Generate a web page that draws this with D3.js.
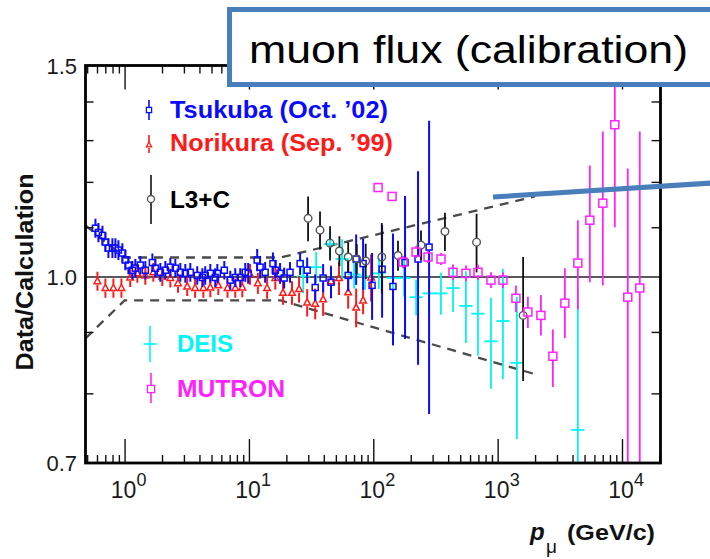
<!DOCTYPE html>
<html>
<head>
<meta charset="utf-8">
<script src="https://cdn.jsdelivr.net/npm/d3@7"></script>
<style>
  html, body { margin: 0; padding: 0; background: #fff; }
  svg { display: block; }
  text { font-family: "Liberation Sans", Arial, Helvetica, sans-serif; }
</style>
</head>
<body>
<svg id="chart" width="710" height="559"></svg>
<script>
// Muon flux ratio Data/Calculation versus muon momentum, several experiments.

// Tsukuba (Oct. '02): [p (GeV/c), ratio, ±error]
const tsukuba = [
  [0.583,1.098,0.02],[0.616,1.089,0.02],[0.664,1.083,0.02],[0.701,1.069,0.02],
  [0.741,1.057,0.02],[0.798,1.057,0.02],[0.844,1.057,0.02],[0.892,1.053,0.02],
  [0.960,1.047,0.02],[1.015,1.033,0.02],[1.073,1.023,0.018],[1.155,1.013,0.018],
  [1.221,1.017,0.018],[1.339,1.023,0.018],[1.469,1.013,0.018],[1.673,1.028,0.018],
  [1.768,1.017,0.018],[1.939,1.009,0.018],[2.127,1.013,0.018],[2.333,1.019,0.018],
  [2.559,1.017,0.018],[2.807,1.009,0.018],[3.079,1.007,0.018],[3.377,1.009,0.018],
  [3.84,1.003,0.018],[4.22,0.999,0.018],[4.45,1.003,0.018],[4.89,1.007,0.018],
  [5.36,0.999,0.018],[5.57,1.007,0.018],[6.34,1.013,0.018],[7.08,0.994,0.018],
  [7.76,0.999,0.018],[8.51,0.999,0.018],[9.34,1.009,0.018],[9.86,1.007,0.02],
  [11.65,1.033,0.022],[12.3,1.019,0.022],[13.5,1.009,0.02],[15.6,1.026,0.022],
  [16.3,1.013,0.02],[17.8,1.007,0.02],[19.2,0.998,0.02],[21.4,1.009,0.02],
  [25.8,1.026,0.022],[29.4,1.013,0.025],[34.1,0.980,0.025],[39.5,0.998,0.027],
  [45.7,0.990,0.03],[62.8,1.003,0.03],[72.8,1.035,0.05],[82.8,1.026,0.05],
  [97.8,0.984,0.063],[117.7,1.015,0.09],[144,0.982,0.105],[180,1.028,0.14],
  [229,1.035,0.19],[281,1.059,0.29]
];

// Norikura (Sep. '99): [p, ratio, ±error]
const norikura = [
  [0.605,0.992,0.018],[0.701,0.979,0.018],[0.813,0.979,0.018],[0.943,0.979,0.018],
  [1.11,0.999,0.018],[1.267,1.007,0.018],[1.469,1.003,0.018],[1.703,1.009,0.018],
  [2.01,1.001,0.018],[2.333,0.998,0.018],[2.69,0.988,0.018],[3.19,0.982,0.018],
  [3.69,0.979,0.018],[4.3,0.979,0.018],[4.89,0.980,0.018],[5.67,0.984,0.018],
  [6.73,0.979,0.018],[7.76,0.979,0.018],[8.84,0.980,0.018],[10.2,1.005,0.02],
  [11.8,0.988,0.02],[14.0,0.979,0.02],[16.3,0.998,0.022],[18.8,0.970,0.022],
  [22.2,0.970,0.022],[25.3,0.977,0.025],[29.4,0.952,0.025],[34.1,0.950,0.028],
  [39.5,0.958,0.03],[45.7,0.992,0.03],[53.0,0.998,0.032],[62.8,0.971,0.03],
  [72.8,0.943,0.035],[82.8,0.956,0.025],[96.0,0.999,0.045]
];

// L3+C: [p, ratio, ±error]
const l3c = [
  [29.9,1.119,0.048],[37.3,1.094,0.04],[44.9,1.067,0.035],[53.4,1.051,0.03],
  [62.8,1.039,0.03],[73.7,1.035,0.03],[86.9,1.031,0.035],[117,1.039,0.07],
  [158,1.042,0.03],[242,1.063,0.03],[377,1.091,0.04],[677,1.069,0.06],
  [1603,0.929,0.11]
];

// DEIS: [p, ratio, ±error]; bins are drawn as ±deisBinHalfWidth decades
const deis = [
  [27.3,1.001,0.032],[34.7,1.019,0.03],[45.0,1.065,0.026],[56.1,1.035,0.04],
  [70.1,1.005,0.027],[85.9,1.001,0.025],[111,1.007,0.03],[144,0.998,0.028],
  [177,0.998,0.035],[221,0.962,0.033],[281,0.969,0.034],[350,0.969,0.039],
  [438,0.979,0.044],[556,0.946,0.065],[695,0.932,0.072],[884,0.884,0.077],
  [1103,0.919,0.097],[1429,0.848,0.115],[4416,0.746,0.235]
];
const deisBinHalfWidth = 0.053;

// MUTRON: [p, ratio, lower, upper]
const mutron = [
  [109.3,1.187,1.177,1.197],[141.6,1.167,1.157,1.177],[173.5,1.029,1.017,1.041],
  [220.8,1.049,1.037,1.061],[275.5,1.039,1.027,1.051],[350.5,1.035,1.023,1.047],
  [437.5,1.009,0.994,1.024],[556.5,1.007,0.992,1.022],[694.8,1.009,0.994,1.024],
  [883.8,0.994,0.979,1.009],[1103,0.994,0.979,1.009],[1403,0.960,0.935,0.984],
  [1751,0.935,0.907,0.963],[2228,0.929,0.894,0.966],[2781,0.859,0.810,0.904],
  [3473,0.951,0.889,1.017],[4416,1.027,0.94,1.115],[5513,1.115,0.990,1.238],
  [7012,1.152,0.984,1.322],[8755,1.339,1.100,1.63],[11130,0.962,0.6,1.231],
  [13900,0.979,0.6,1.322]
];

// Uncertainty band of the calculation (dashed)
const bandUpper = [[0.485,1.104],[1.0,1.038],[18,1.038],[2000,1.167]];
const bandLower = [[0.485,0.889],[1.0,0.956],[18,0.956],[2000,0.83]];

// Axes
const xDomain = [0.485, 20400];
const yDomain = [0.7, 1.5];
const xDecades = [0, 1, 2, 3, 4];
const yLabelValues = [0.7, 1.0, 1.5];
const yTickValues = [0.8, 0.9, 1.1, 1.2, 1.3, 1.4];

const legendItems = [
  {label: "Tsukuba (Oct. \u201902)", key: "tsukuba"},
  {label: "Norikura (Sep. \u201999)", key: "norikura"},
  {label: "L3+C", key: "l3c"},
  {label: "DEIS", key: "deis"},
  {label: "MUTRON", key: "mutron"}
];

const titleText = "muon flux (calibration)";

// ---------------------------------------------------------------
const svg = d3.select("#chart");
const plot = {left: 85.5, right: 660.5, top: 65.5, bottom: 463};

const x = d3.scaleLog().domain(xDomain).range([plot.left, plot.right]);
const y = d3.scaleLog().domain(yDomain).range([plot.bottom, plot.top]);

const colors = {
  tsukuba: "#0a0aff", norikura: "#ff1a1a", l3c: "#000000",
  deis: "#00f5f5", mutron: "#ff22ff"
};

svg.append("defs").append("clipPath").attr("id", "plotClip")
  .append("rect")
  .attr("x", plot.left).attr("y", plot.top)
  .attr("width", plot.right - plot.left).attr("height", plot.bottom - plot.top);

// Reference line at ratio 1
svg.append("line")
  .attr("x1", plot.left).attr("x2", plot.right)
  .attr("y1", y(1)).attr("y2", y(1))
  .attr("stroke", "#222").attr("stroke-width", 1.6);

const dataG = svg.append("g").attr("clip-path", "url(#plotClip)");

// Dashed band
const bandLine = d3.line().x(d => x(d[0])).y(d => y(d[1]));
[bandUpper, bandLower].forEach(b => {
  dataG.append("path").attr("d", bandLine(b))
    .attr("fill", "none").attr("stroke", "#4a4a4a")
    .attr("stroke-width", 2.3).attr("stroke-dasharray", "9,7");
});

// Vertical error bar split around a marker of half-size h
function errorBar(g, cx, cy, yHi, yLo, h, color, w) {
  if (cy - h > yHi) g.append("line").attr("x1", cx).attr("x2", cx)
    .attr("y1", yHi).attr("y2", cy - h).attr("stroke", color).attr("stroke-width", w);
  if (yLo > cy + h) g.append("line").attr("x1", cx).attr("x2", cx)
    .attr("y1", cy + h).attr("y2", yLo).attr("stroke", color).attr("stroke-width", w);
}

function square(g, cx, cy, h, color, w) {
  g.append("rect").attr("x", cx - h).attr("y", cy - h)
    .attr("width", 2 * h).attr("height", 2 * h)
    .attr("fill", "none").attr("stroke", color).attr("stroke-width", w);
}
function triangle(g, cx, cy, h, color, w) {
  g.append("path")
    .attr("d", `M${cx},${cy - h * 1.15}L${cx + h},${cy + h * 0.75}L${cx - h},${cy + h * 0.75}Z`)
    .attr("fill", "none").attr("stroke", color).attr("stroke-width", w);
}
function circle(g, cx, cy, r, color, w) {
  g.append("circle").attr("cx", cx).attr("cy", cy).attr("r", r)
    .attr("fill", "none").attr("stroke", color).attr("stroke-width", w);
}

// DEIS crosses
const deisG = dataG.append("g");
deis.forEach(d => {
  const cx = x(d[0]), cy = y(d[1]);
  deisG.append("line").attr("x1", cx).attr("x2", cx)
    .attr("y1", y(d[1] + d[2])).attr("y2", y(d[1] - d[2]))
    .attr("stroke", colors.deis).attr("stroke-width", 1.8);
  deisG.append("line")
    .attr("x1", x(d[0] / Math.pow(10, deisBinHalfWidth)))
    .attr("x2", x(d[0] * Math.pow(10, deisBinHalfWidth)))
    .attr("y1", cy).attr("y2", cy)
    .attr("stroke", colors.deis).attr("stroke-width", 1.8);
});

// Norikura triangles
const noriG = dataG.append("g");
norikura.forEach(d => {
  const cx = x(d[0]), cy = y(d[1]);
  errorBar(noriG, cx, cy, y(d[1] + d[2]), y(d[1] - d[2]), 3.5, colors.norikura, 2);
  triangle(noriG, cx, cy, 3.3, colors.norikura, 1.5);
});

// Tsukuba squares
const tsuG = dataG.append("g");
tsukuba.forEach(d => {
  const cx = x(d[0]), cy = y(d[1]);
  errorBar(tsuG, cx, cy, y(d[1] + d[2]), y(d[1] - d[2]), 3, colors.tsukuba, 2);
  square(tsuG, cx, cy, 3, colors.tsukuba, 1.5);
});

// L3+C circles
const l3G = dataG.append("g");
l3c.forEach(d => {
  const cx = x(d[0]), cy = y(d[1]);
  errorBar(l3G, cx, cy, y(d[1] + d[2]), y(d[1] - d[2]), 3.8, "#111", 1.8);
  circle(l3G, cx, cy, 3.8, "#555", 1.4);
});

// MUTRON squares
const mutG = dataG.append("g");
mutron.forEach(d => {
  const cx = x(d[0]), cy = y(d[1]);
  errorBar(mutG, cx, cy, y(d[3]), y(d[2]), 4, colors.mutron, 1.8);
  square(mutG, cx, cy, 4, colors.mutron, 1.5);
});

// Axes: ticks point into the frame
const majorX = xDecades.map(e => Math.pow(10, e));
const minorX = [];
for (let e = -1; e <= 4; e++) for (let m = 2; m <= 9; m++) {
  const v = m * Math.pow(10, e);
  if (v >= xDomain[0] && v <= xDomain[1]) minorX.push(v);
}
function styleAxis(g) {
  g.select(".domain").remove();
  g.selectAll(".tick line").attr("stroke", "#111").attr("stroke-width", 1.4);
  g.selectAll(".tick text").remove();
}
svg.append("g").attr("transform", `translate(0,${plot.bottom})`)
  .call(d3.axisBottom(x).tickValues(minorX).tickSize(-8).tickFormat("")).call(styleAxis);
svg.append("g").attr("transform", `translate(0,${plot.bottom})`)
  .call(d3.axisBottom(x).tickValues(majorX).tickSize(-24).tickFormat("")).call(styleAxis);
svg.append("g").attr("transform", `translate(0,${plot.top})`)
  .call(d3.axisTop(x).tickValues(minorX).tickSize(-8).tickFormat("")).call(styleAxis);
svg.append("g").attr("transform", `translate(0,${plot.top})`)
  .call(d3.axisTop(x).tickValues(majorX).tickSize(-24).tickFormat("")).call(styleAxis);
svg.append("g").attr("transform", `translate(${plot.left},0)`)
  .call(d3.axisLeft(y).tickValues(yTickValues).tickSize(-8).tickFormat("")).call(styleAxis);
svg.append("g").attr("transform", `translate(${plot.right},0)`)
  .call(d3.axisRight(y).tickValues(yTickValues).tickSize(-9).tickFormat("")).call(styleAxis);

// Frame
svg.append("rect")
  .attr("x", plot.left).attr("y", plot.top)
  .attr("width", plot.right - plot.left).attr("height", plot.bottom - plot.top)
  .attr("fill", "none").attr("stroke", "#000").attr("stroke-width", 2.8);

// X tick labels 10^n
const xl = svg.append("g").attr("fill", "#1a1a1a");
xDecades.forEach(e => {
  const px = x(Math.pow(10, e));
  xl.append("text").attr("x", px - 1).attr("y", 498)
    .attr("text-anchor", "middle").attr("font-size", 23).text("10");
  xl.append("text").attr("x", px + 12).attr("y", 486)
    .attr("font-size", 18).text(String(e));
});

// Y tick labels
yLabelValues.forEach(v => {
  svg.append("text").attr("x", 77).attr("y", y(v) + 8)
    .attr("text-anchor", "end").attr("font-size", 22).attr("fill", "#1a1a1a")
    .text(d3.format(".1f")(v));
});

// Axis titles
svg.append("text")
  .attr("transform", "translate(33,272) rotate(-90)")
  .attr("text-anchor", "middle").attr("font-size", 24).attr("font-weight", "bold")
  .attr("fill", "#111").attr("textLength", 197).attr("lengthAdjust", "spacingAndGlyphs")
  .text("Data/Calculation");

const xt = svg.append("g").attr("fill", "#111").attr("font-weight", "bold");
xt.append("text").attr("x", 530).attr("y", 540).attr("font-size", 24)
  .attr("font-style", "italic").text("p");
xt.append("text").attr("x", 546).attr("y", 553).attr("font-size", 19)
  .attr("font-weight", "normal").text("\u03bc");
xt.append("text").attr("x", 567).attr("y", 540).attr("font-size", 22)
  .attr("textLength", 88).attr("lengthAdjust", "spacingAndGlyphs").text("(GeV/c)");

// Legend
const lg = svg.append("g");
const legendRows = {
  tsukuba: {my: 110, mx: 149, ty: 118, tx: 170, w: 218},
  norikura: {my: 145, mx: 149, ty: 151, tx: 170, w: 223},
  l3c: {my: 199, mx: 151, ty: 208, tx: 170, w: 60},
  deis: {my: 344, mx: 150, ty: 352, tx: 177, w: 56},
  mutron: {my: 389, mx: 151, ty: 397, tx: 177, w: 108}
};
legendItems.forEach(item => {
  const r = legendRows[item.key];
  const c = colors[item.key];
  if (item.key === "tsukuba") {
    errorBar(lg, r.mx, r.my, r.my - 10, r.my + 10, 2.6, c, 1.6);
    square(lg, r.mx, r.my, 2.6, c, 1.3);
  } else if (item.key === "norikura") {
    errorBar(lg, r.mx, r.my, r.my - 10, r.my + 8, 3, c, 1.6);
    triangle(lg, r.mx, r.my, 2.6, c, 1.3);
  } else if (item.key === "l3c") {
    errorBar(lg, r.mx, r.my, r.my - 24, r.my + 25, 3.5, "#111", 1.6);
    circle(lg, r.mx, r.my, 3.5, "#555", 1.3);
  } else if (item.key === "deis") {
    lg.append("line").attr("x1", r.mx).attr("x2", r.mx)
      .attr("y1", r.my - 18).attr("y2", r.my + 18).attr("stroke", c).attr("stroke-width", 1.6);
    lg.append("line").attr("x1", r.mx - 6.5).attr("x2", r.mx + 6.5)
      .attr("y1", r.my).attr("y2", r.my).attr("stroke", c).attr("stroke-width", 1.6);
  } else {
    errorBar(lg, r.mx, r.my, r.my - 16, r.my + 14, 3.6, c, 1.6);
    square(lg, r.mx, r.my, 3.6, c, 1.3);
  }
  lg.append("text").attr("x", r.tx).attr("y", r.ty)
    .attr("font-size", 24).attr("font-weight", "bold")
    .attr("fill", item.key === "l3c" ? "#000" : c)
    .attr("textLength", r.w).attr("lengthAdjust", "spacingAndGlyphs")
    .text(item.label);
});

// Callout: title box and pointer line
const callColor = "#4a7ebb";
svg.append("line")
  .attr("x1", 493).attr("y1", 197).attr("x2", 712).attr("y2", 183)
  .attr("stroke", callColor).attr("stroke-width", 5);
svg.append("rect")
  .attr("x", 229.5).attr("y", 9.5).attr("width", 490).attr("height", 75)
  .attr("fill", "#fff").attr("stroke", callColor).attr("stroke-width", 5);
svg.append("text")
  .attr("x", 249).attr("y", 63)
  .attr("font-family", "Lato, 'Open Sans', sans-serif")
  .attr("font-size", 38).attr("fill", "#000")
  .attr("textLength", 439).attr("lengthAdjust", "spacingAndGlyphs")
  .text(titleText);
</script>
</body>
</html>
